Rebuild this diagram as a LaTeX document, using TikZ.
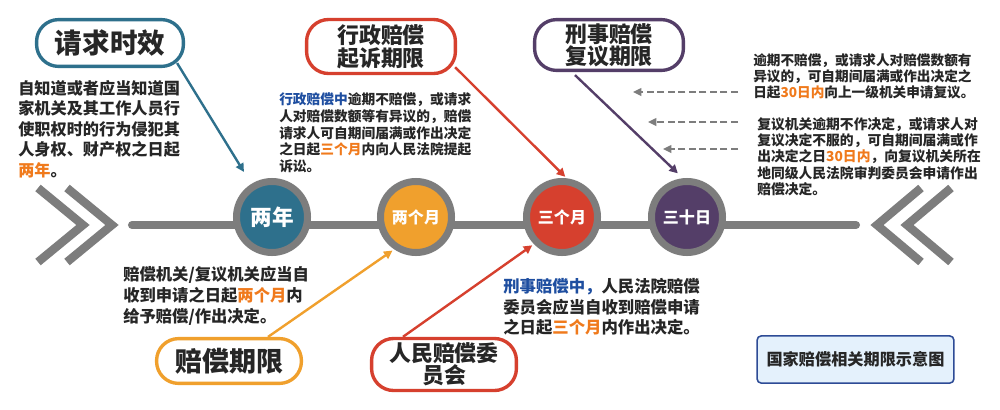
\documentclass[tikz,border=0pt]{standalone}
\usepackage{fontspec}
\setmainfont{Noto Sans CJK SC}
\usetikzlibrary{arrows.meta,calc}
\definecolor{cteal}{RGB}{46,112,140}
\definecolor{corange}{RGB}{240,160,45}
\definecolor{cred}{RGB}{214,64,46}
\definecolor{cpurple}{RGB}{84,62,104}
\definecolor{cring}{RGB}{125,125,125}
\definecolor{ctext}{RGB}{38,38,38}
\definecolor{chl}{RGB}{240,122,28}
\definecolor{cblue}{RGB}{30,78,160}
\definecolor{boxfill}{RGB}{228,241,252}
\definecolor{boxdraw}{RGB}{45,75,150}
\newcommand\hl[1]{\textcolor{chl}{#1}}
\newcommand\hb[1]{\textcolor{cblue}{#1}}
\newcommand\fs[2]{\fontsize{#1}{#2}\selectfont\bfseries}
\begin{document}
\begin{tikzpicture}[x=0.025cm,y=-0.025cm,
  bodytext/.style={anchor=north west, inner sep=0pt, align=left, text=ctext},
  lab/.style={draw=#1, line width=2.4pt, rounded corners=0.55cm, fill=white, text=ctext, align=center, inner sep=0pt},
  stopc/.style={circle, draw=cring, line width=4.98pt, fill=#1, minimum size=1.775cm, inner sep=0pt, text=white, font=\fs{11.4}{12}},
  conn/.style={draw=#1, line width=1.7pt, -{Triangle[length=6pt,width=6pt]}},
  dasharrow/.style={draw=cring, line width=1.1pt, dash pattern=on 5pt off 2.5pt, -{Triangle[length=6pt,width=5.5pt]}},
  chev/.style={draw=cring, line width=6pt, line join=miter}]
\useasboundingbox (0,0) rectangle (1000,409);
\fill[white] (0,0) rectangle (1000,409);

% chevrons
\draw[chev] (38,188) -- (83,225) -- (38,262);
\draw[chev] (67,188) -- (112,225) -- (67,262);
\draw[chev] (921,188) -- (877,225) -- (921,262);
\draw[chev] (951,188) -- (907,225) -- (951,262);

% timeline
\coordinate (tl) at (132,225);
\coordinate (tr) at (856,225);
\draw[cring, line width=5.7pt, line cap=round] (tl) -- (tr);

% stops
\node[stopc=cteal, font=\fs{15.4}{16}] (C1) at (272,217) {两年};
\node[stopc=corange] (C2) at (416,217) {两个月};
\node[stopc=cred] (C3) at (562,217) {三个月};
\node[stopc=cpurple] (C4) at (687,217) {三十日};

% labels
\node[lab=cteal, minimum width=3.67cm, minimum height=1.17cm, font=\fs{19.6}{22}] (L1) at (110,43) {请求时效};
\node[lab=cred, minimum width=3.72cm, minimum height=1.35cm, font=\fs{15.6}{16.4}] (L2) at (381,46.5) {行政赔偿\\起诉期限};
\node[lab=cpurple, minimum width=3.72cm, minimum height=1.27cm, font=\fs{15.6}{15.8}] (L3) at (609,45) {刑事赔偿\\复议期限};
\node[lab=corange, minimum width=3.62cm, minimum height=1.12cm, font=\fs{19.2}{22}] (L4) at (229,361) {赔偿期限};
\node[lab=cred, minimum width=3.62cm, minimum height=1.3cm, font=\fs{15.6}{15.8}] (L5) at (444,364.5) {人民赔偿委\\员会};
\node[draw=boxdraw, fill=boxfill, line width=1.1pt, rounded corners=3pt, minimum width=4.92cm, minimum height=1.18cm, inner sep=0pt, text=ctext, font=\fs{11.5}{13}] (B) at (855.5,359.5) {国家赔偿相关期限示意图};

% body texts
\node[bodytext, font=\fs{11.5}{14.6}] (T1) at (18,80) {自知道或者应当知道国\\家机关及其工作人员行\\使职权时的行为侵犯其\\人身权、财产权之日起\\\hl{两年}。};
\node[bodytext, font=\fs{9.75}{11.8}] (T2) at (279,92.8) {\hb{行政赔偿中}逾期不赔偿，或请求\\人对赔偿数额等有异议的，赔偿\\请求人可自期间届满或作出决定\\之日起\hl{三个月}内向人民法院提起\\诉讼。};
\node[bodytext, font=\fs{9.7}{11.4}] (T3) at (753,53) {逾期不赔偿，或请求人对赔偿数额有\\异议的，可自期间届满或作出决定之\\日起\hl{30日内}向上一级机关申请复议。};
\node[bodytext, font=\fs{9.8}{11.6}] (T4) at (757,117) {复议机关逾期不作决定，或请求人对\\复议决定不服的，可自期间届满或作\\出决定之日\hl{30日内}，向复议机关所在\\地同级人民法院审判委员会申请作出\\赔偿决定。};
\node[bodytext, font=\fs{11.6}{14.9}] (T5) at (123,266) {赔偿机关/复议机关应当自\\收到申请之日起\hl{两个月}内\\给予赔偿/作出决定。};
\node[bodytext, font=\fs{11.65}{14.6}] (T6) at (503,278) {\hb{刑事赔偿中，}人民法院赔偿\\委员会应当自收到赔偿申请\\之日起\hl{三个月}内作出决定。};

% connectors
\draw[conn=cteal, shorten >=10pt] ($(L1.south east)+(-8,-5)$) -- (C1.122);
\draw[conn=cred, shorten >=1.5pt] ($(L2.south east)+(-2,-8)$) -- (C3.83);
\draw[conn=cpurple, shorten >=5pt] ($(L3.south)+(-34,3)$) -- (C4.96);
\draw[conn=corange, shorten >=1.5pt] ($(L4.north)+(39,0)$) -- (C2.236);
\draw[conn=cred, shorten >=1.5pt] ($(L5.north)+(-41,0)$) -- (C3.224);

% dashed pointers
\coordinate (d1a) at (738,92);
\coordinate (d1b) at (633,92);
\coordinate (d2a) at (738,122);
\coordinate (d2b) at (648,122);
\coordinate (d3a) at (738,149);
\coordinate (d3b) at (663,149);
\draw[dasharrow] (d1a) -- (d1b);
\draw[dasharrow] (d2a) -- (d2b);
\draw[dasharrow] (d3a) -- (d3b);
\end{tikzpicture}
\end{document}
